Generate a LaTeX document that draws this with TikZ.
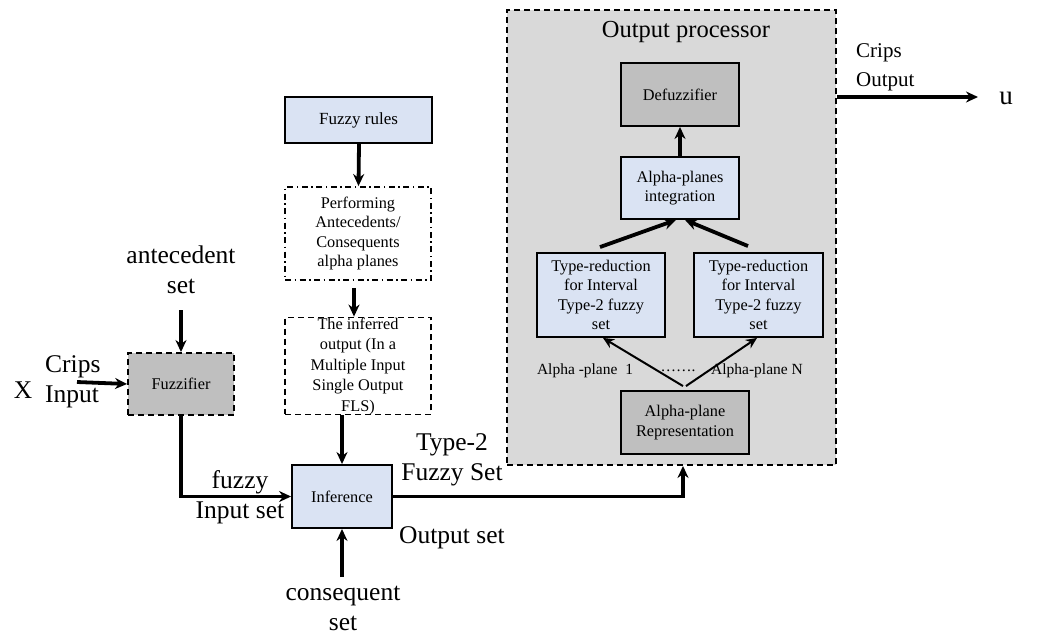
\documentclass[tikz,border=0pt]{standalone}
\usepackage{fontspec}
\setmainfont{Liberation Serif}
\usetikzlibrary{arrows.meta}
\definecolor{boxblue}{HTML}{DAE3F3}
\definecolor{boxgray}{HTML}{BFBFBF}
\definecolor{procgray}{HTML}{D9D9D9}
\tikzset{
  blk/.style={draw=black, line width=1.9pt, rectangle, inner sep=0pt, align=center,
    font=\fontsize{16.3}{19.5}\selectfont},
  bluebox/.style={blk, fill=boxblue},
  graybox/.style={blk, fill=boxgray},
  dashbox/.style={dash pattern=on 6pt off 4pt},
  dotdashbox/.style={dash pattern=on 6pt off 3.5pt on 1.5pt off 3.5pt},
  biglabel/.style={align=center, inner sep=0pt, font=\fontsize{25.5}{30}\selectfont},
  midlabel/.style={align=left, inner sep=0pt, font=\fontsize{21}{29}\selectfont},
  smalllabel/.style={inner sep=0pt, font=\fontsize{15.5}{18}\selectfont},
  thickarr/.style={line width=3.8pt, -{Stealth[length=12pt,width=11pt]}},
  thinarr/.style={line width=2pt, -{Stealth[length=11pt,width=10pt]}},
}
\begin{document}
\begin{tikzpicture}[x=1pt,y=-1pt]
\useasboundingbox (0,0) rectangle (1055,635);

% output processor frame
\node[blk, fill=procgray, dashbox, minimum width=329pt, minimum height=455pt] (outproc) at (671.5,237.5) {};
\node[inner sep=0pt, font=\fontsize{24.5}{28}\selectfont] (optitle) at (686,32) {Output processor};

% inner blocks of the output processor
\node[graybox, minimum width=118pt, minimum height=63pt] (defuzz) at (680,94.5) {Defuzzifier};
\node[bluebox, minimum width=118pt, minimum height=62pt] (integ) at (680,188) {Alpha-planes\\integration};
\node[bluebox, minimum width=128pt, minimum height=84pt] (trL) at (601,295) {Type-reduction\\for Interval\\Type-2 fuzzy\\set};
\node[bluebox, minimum width=129pt, minimum height=84pt] (trR) at (758.5,295) {Type-reduction\\for Interval\\Type-2 fuzzy\\set};
\node[graybox, minimum width=128pt, minimum height=63pt] (rep) at (685,422.5) {Alpha-plane\\Representation};

\node[smalllabel] (apl1) at (585,371) {Alpha -plane~~1};
\node[smalllabel] (apdots) at (678,371) {…….};
\node[smalllabel] (apln) at (757,371) {Alpha-plane N};

% rule chain
\node[bluebox, minimum width=147pt, minimum height=46pt, font=\fontsize{17}{20}\selectfont] (rules) at (358.5,120) {Fuzzy rules};
\node[blk, draw, dotdashbox, minimum width=146pt, minimum height=93pt] (perform) at (358,233.5) {Performing\\Antecedents/\\Consequents\\alpha planes};
\node[blk, draw, dashbox, minimum width=146pt, minimum height=94pt, font=\fontsize{16.3}{20.5}\selectfont] (inferred) at (358,366) {The inferred\\output (In a\\Multiple Input\\Single Output\\FLS)};

% fuzzifier and inference
\node[graybox, dashbox, minimum width=106pt, minimum height=62pt] (fuzz) at (181,384) {Fuzzifier};
\node[bluebox, minimum width=100pt, minimum height=63pt] (inf) at (342,496.5) {Inference};

% outer labels
\node[biglabel] (ante) at (181,270) {antecedent\\set};
\node[biglabel] (xin) at (23,390) {X};
\node[biglabel, align=left, anchor=west] (crin) at (45,382) {Crips\\Input};
\node[biglabel] (fin) at (240,497) {fuzzy\\Input set};
\node[biglabel] (t2) at (452,460) {Type-2\\Fuzzy Set};
\node[biglabel] (oset) at (452,538) {Output set};
\node[biglabel] (cons) at (343,608) {consequent\\set};
\node[midlabel, anchor=west] (crout) at (856,67.5) {Crips\\Output};
\node[biglabel, font=\fontsize{27}{30}\selectfont] (u) at (1006,98) {u};

% free ends of the input and output arrows
\coordinate (antetop) at (181,310);
\coordinate (xstart) at (77,382);
\coordinate (consbot) at (342,577);
\coordinate (uend) at (978,97);

% connectors
\draw[thickarr] (antetop) -- (fuzz.north);
\draw[thickarr] (xstart) -- (fuzz.west);
\draw[thickarr] (fuzz.south) |- (inf.west);
\draw[thickarr] ([xshift=0.5pt]rules.south) -- ([xshift=0.5pt]perform.north);
\draw[thickarr, shorten <=7pt] ([xshift=-4pt]perform.south) -- ([xshift=-4pt]inferred.north);
\draw[thickarr] (inf.north |- inferred.south) -- (inf.north);
\draw[thickarr] (consbot) -- (inf.south);
\draw[thickarr] (inf.east) -| ([xshift=11.5pt]outproc.south);
\draw[thickarr] (integ.north) -- (defuzz.south);
\draw[thickarr] ([xshift=-1pt,yshift=5pt]trL.north) -- ([xshift=-4pt]integ.south);
\draw[thickarr] ([xshift=-10.5pt,yshift=6pt]trR.north) -- ([xshift=5pt]integ.south);
\draw[thinarr] ([xshift=-2pt,yshift=4pt]rep.north) -- ([xshift=2pt]trL.south);
\draw[thinarr] ([xshift=1pt,yshift=4pt]rep.north) -- ([xshift=-1.5pt]trR.south);
\draw[thickarr] (outproc.east |- uend) -- (uend);
\end{tikzpicture}
\end{document}
